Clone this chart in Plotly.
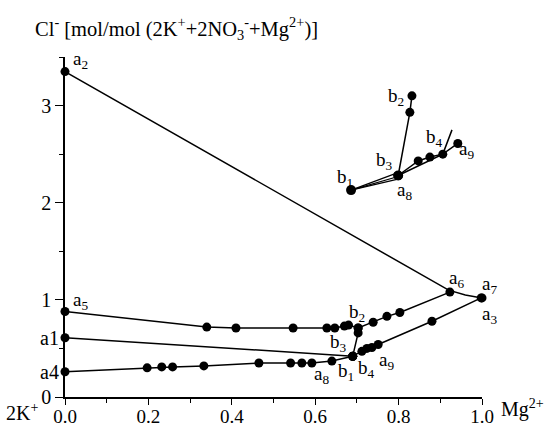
import plotly.graph_objects as go

# ---- data ----
a2_x = [0.0, 0.92, 0.96, 1.0]
a2_y = [3.35, 1.10, 1.05, 1.02]
a2_marker_x = [0.0, 1.0]
a2_marker_y = [3.35, 1.02]

a5_x = [0.0, 0.34, 0.41, 0.547, 0.628, 0.647, 0.67, 0.68, 0.703, 0.739, 0.772, 0.803, 0.923]
a5_y = [0.88, 0.72, 0.71, 0.71, 0.71, 0.71, 0.73, 0.74, 0.71, 0.77, 0.83, 0.87, 1.08]

a1_x = [0.0, 0.69]
a1_y = [0.61, 0.42]

a4_x = [0.0, 0.197, 0.232, 0.258, 0.333, 0.465, 0.541, 0.568, 0.592, 0.64, 0.69]
a4_y = [0.26, 0.30, 0.31, 0.31, 0.32, 0.35, 0.35, 0.35, 0.35, 0.37, 0.42]

b_x = [0.69, 0.703, 0.703]
b_y = [0.42, 0.66, 0.71]

a3_x = [0.69, 0.712, 0.724, 0.736, 0.751, 0.88, 0.998]
a3_y = [0.42, 0.47, 0.50, 0.51, 0.54, 0.78, 1.02]

# inset (magnified sketch)
in_b1 = (0.686, 2.13)
in_a8 = (0.799, 2.28)
in_b2_x = [0.799, 0.827, 0.832]
in_b2_y = [2.28, 2.93, 3.10]
in_a9_x = [0.799, 0.847, 0.875, 0.906, 0.942]
in_a9_y = [2.28, 2.43, 2.47, 2.50, 2.61]
in_b4_x = [0.799, 0.906, 0.928]
in_b4_y = [2.28, 2.50, 2.75]
in_fan_end_x = [0.792, 0.799, 0.806]
in_fan_end_y = [2.30, 2.27, 2.25]

labels = [
    ("a<sub>2</sub>", 0.015, 3.47, "left", 0),
    ("a<sub>5</sub>", 0.015, 0.99, "left", 0),
    ("a<sub>6</sub>", 0.938, 1.21, "center", 0),
    ("a<sub>7</sub>", 1.0, 1.15, "left", -2),
    ("a<sub>3</sub>", 1.0, 0.84, "left", -2),
    ("b<sub>2</sub>", 0.70, 0.86, "center", 0),
    ("b<sub>3</sub>", 0.655, 0.555, "center", 0),
    ("a<sub>8</sub>", 0.614, 0.23, "center", 0),
    ("b<sub>1</sub>", 0.674, 0.26, "center", 0),
    ("b<sub>4</sub>", 0.722, 0.29, "center", 0),
    ("a<sub>9</sub>", 0.772, 0.37, "center", 0),
    ("b<sub>2</sub>", 0.794, 3.09, "center", 0),
    ("b<sub>3</sub>", 0.767, 2.43, "center", 0),
    ("b<sub>1</sub>", 0.672, 2.25, "center", 0),
    ("a<sub>8</sub>", 0.815, 2.12, "center", 0),
    ("b<sub>4</sub>", 0.887, 2.67, "center", 0),
    ("a<sub>9</sub>", 0.964, 2.54, "center", 0),
]
left_labels = [("a1", 0.61), ("a4", 0.26)]

FONT = "Liberation Serif"
mk = dict(color="black", size=9)
ln = dict(color="black", width=1.5)

W, H = 548, 427
L, R, T, B = 65, 66, 57, 30
pw, ph = W - L - R, H - T - B


def px_x(p):
    return (p - L) / pw


def px_y(p):
    return (H - p - B) / ph


fig = go.Figure()
fig.add_trace(go.Scatter(x=a2_x, y=a2_y, mode="lines", line=ln))
fig.add_trace(go.Scatter(x=a2_marker_x, y=a2_marker_y, mode="markers", marker=mk))
for xs, ys in [(a5_x, a5_y), (a1_x, a1_y), (a4_x, a4_y), (b_x, b_y), (a3_x, a3_y),
               (in_b2_x, in_b2_y), (in_a9_x, in_a9_y)]:
    fig.add_trace(go.Scatter(x=xs, y=ys, mode="lines+markers", line=ln, marker=mk))
fig.add_trace(go.Scatter(x=in_b4_x, y=in_b4_y, mode="lines", line=ln))
for ex, ey in zip(in_fan_end_x, in_fan_end_y):
    fig.add_trace(go.Scatter(x=[in_b1[0], ex], y=[in_b1[1], ey], mode="lines",
                             line=dict(color="black", width=1.2)))
fig.add_trace(go.Scatter(x=[in_b1[0], in_a8[0]], y=[in_b1[1], in_a8[1]],
                         mode="markers", marker=dict(color="black", size=10)))
fig.update_traces(cliponaxis=False, showlegend=False)

for t, x, y, xa, xs in labels:
    fig.add_annotation(text=t, x=x, y=y, xref="x", yref="y", showarrow=False,
                       xanchor=xa, xshift=xs, yanchor="middle",
                       font=dict(family=FONT, size=19, color="black"))
for t, y in left_labels:
    fig.add_annotation(text=t, x=0, y=y, xref="x", yref="y", showarrow=False,
                       xanchor="right", xshift=-4, yanchor="middle",
                       font=dict(family=FONT, size=20, color="black"))

fig.add_annotation(text="Cl<sup>-</sup> [mol/mol (2K<sup>+</sup>+2NO<sub>3</sub><sup>-</sup>+Mg<sup>2+</sup>)]",
                   x=px_x(33), y=px_y(28), xref="paper", yref="paper", showarrow=False,
                   xanchor="left", yanchor="middle",
                   font=dict(family=FONT, size=20.5, color="black"))
fig.add_annotation(text="2K<sup>+</sup>", x=px_x(4), y=px_y(412), xref="paper", yref="paper",
                   showarrow=False, xanchor="left", yanchor="middle",
                   font=dict(family=FONT, size=20, color="black"))
fig.add_annotation(text="Mg<sup>2+</sup>", x=px_x(499), y=px_y(408), xref="paper", yref="paper",
                   showarrow=False, xanchor="left", yanchor="middle",
                   font=dict(family=FONT, size=20, color="black"))

fig.update_xaxes(range=[0, 1], showline=True, linecolor="black", linewidth=1.5,
                 ticks="outside", ticklen=6, tickwidth=1.2, tickcolor="black",
                 tickvals=[0, 0.2, 0.4, 0.6, 0.8, 1.0],
                 ticktext=["0.0", "0.2", "0.4", "0.6", "0.8", "1.0"],
                 ticklabelstandoff=-5,
                 minor=dict(tickvals=[0.1, 0.3, 0.5, 0.7, 0.9], ticks="outside", ticklen=4, tickcolor="black"),
                 showgrid=False, zeroline=False, automargin=False,
                 tickfont=dict(family=FONT, size=19, color="black"))
fig.update_yaxes(range=[0, 3.5], showline=True, linecolor="black", linewidth=1.5,
                 ticks="outside", ticklen=8, tickwidth=1.2, tickcolor="black",
                 tickvals=[0, 1, 2, 3],
                 minor=dict(tickvals=[0.5, 1.5, 2.5, 3.5], ticks="outside", ticklen=4, tickcolor="black"),
                 showgrid=False, zeroline=False, automargin=False,
                 tickfont=dict(family=FONT, size=20, color="black"))
fig.update_layout(width=W, height=H, margin=dict(l=L, r=R, t=T, b=B),
                  plot_bgcolor="white", paper_bgcolor="white")
fig.write_html("out.html")
